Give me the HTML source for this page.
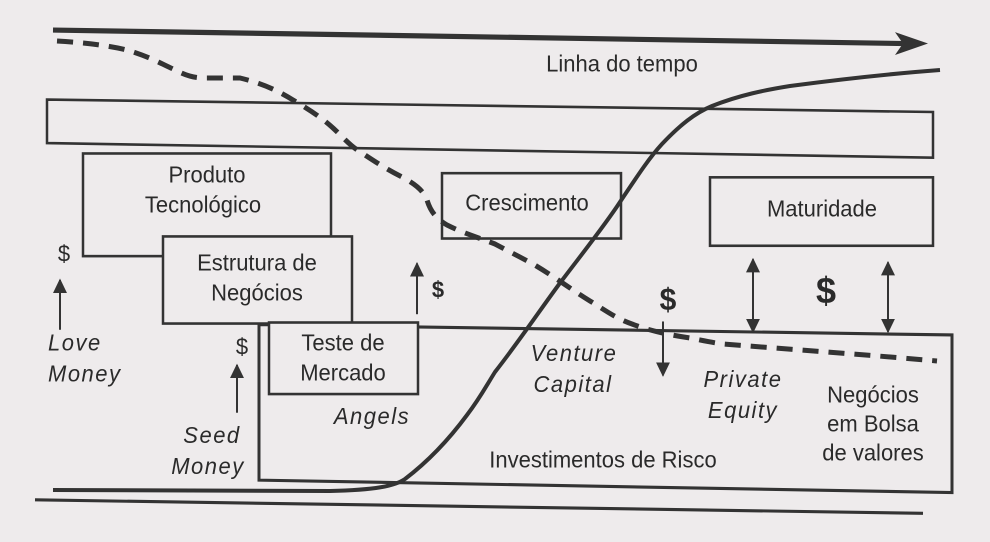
<!DOCTYPE html>
<html><head><meta charset="utf-8"><style>
html,body{margin:0;padding:0;background:#eeebec;}
svg{display:block}
text{font-family:"Liberation Sans",sans-serif;font-size:22px;fill:#2a2a2a;text-anchor:middle}
.i{font-style:italic;letter-spacing:1.5px}
</style></head><body>
<svg width="990" height="542" viewBox="0 0 990 542">
<defs>
<marker id="ah" viewBox="0 0 10 10" refX="9" refY="5" markerWidth="7" markerHeight="7" orient="auto-start-reverse"><path d="M0,0L10,5L0,10z" fill="#333"/></marker>
</defs>
<g transform="scale(1,1.037)">
<g stroke="#333" fill="none">
<line x1="53" y1="29" x2="905" y2="42" stroke-width="5"/>
<path d="M895,31 L928,42 L895,53 L903,42z" fill="#333" stroke="none"/>
<polygon points="47,96 933,108 933,152 47,138" stroke-width="2.5"/>
<rect x="83" y="148" width="248" height="99" stroke-width="2.5" fill="#eeebec"/>
<rect x="163" y="228" width="189" height="84" stroke-width="2.5" fill="#eeebec"/>
<polygon points="259,313 952,323 952,475 259,463" stroke-width="3"/>
<rect x="269" y="311" width="149" height="69" stroke-width="2.5" fill="#eeebec"/>
<rect x="442" y="167" width="179" height="63" stroke-width="2.5"/>
<rect x="710" y="171" width="223" height="66" stroke-width="2.5"/>
<line x1="35" y1="482" x2="923" y2="495" stroke-width="3"/>
<g stroke-width="2">
<line x1="60" y1="318" x2="60" y2="270" marker-end="url(#ah)"/>
<line x1="237" y1="398" x2="237" y2="352" marker-end="url(#ah)"/>
<line x1="417" y1="303" x2="417" y2="254" marker-end="url(#ah)"/>
<line x1="663" y1="310" x2="663" y2="362" marker-end="url(#ah)"/>
<line x1="753" y1="250" x2="753" y2="320" marker-start="url(#ah)" marker-end="url(#ah)"/>
<line x1="888" y1="253" x2="888" y2="320" marker-start="url(#ah)" marker-end="url(#ah)"/>
</g>
</g>
<text x="622" y="69">Linha do tempo</text>
<text x="207" y="176">Produto</text>
<text x="203" y="205">Tecnológico</text>
<text x="257" y="261">Estrutura de</text>
<text x="257" y="290">Negócios</text>
<text x="343" y="338">Teste de</text>
<text x="343" y="367">Mercado</text>
<text x="527" y="203">Crescimento</text>
<text x="822" y="209">Maturidade</text>
<text x="64" y="252">$</text>
<text x="242" y="342">$</text>
<text x="438" y="287" style="font-weight:bold;font-size:22px">$</text>
<text x="668" y="299" style="font-weight:bold;font-size:30px">$</text>
<text x="826" y="292" style="font-weight:bold;font-size:36px">$</text>
<text class="i" x="48" y="338" style="text-anchor:start">Love</text>
<text class="i" x="48" y="368" style="text-anchor:start">Money</text>
<text class="i" x="212" y="427">Seed</text>
<text class="i" x="208" y="457">Money</text>
<text class="i" x="372" y="409">Angels</text>
<text class="i" x="574" y="348">Venture</text>
<text class="i" x="573" y="378">Capital</text>
<text class="i" x="743" y="373">Private</text>
<text class="i" x="743" y="403">Equity</text>
<text x="873" y="388">Negócios</text>
<text x="873" y="416">em Bolsa</text>
<text x="873" y="444">de valores</text>
<text x="603" y="451">Investimentos de Risco</text>
</g>
<g stroke="#333" fill="none">
<path d="M53,490 L330,491 C375,490 395,486 405,479 C430,460 450,438 467,415 C480,398 485,388 495,372 C520,340 540,310 560,283 C585,250 605,225 620,202 C640,172 650,157 662,144 C680,125 695,113 712,106 C740,95 765,90 790,86 C850,78 900,73 940,70" stroke-width="4"/>
<path d="M57,41 C90,43 110,46 127,50 C150,57 160,63 173,69 C185,75 192,78 205,78 L240,78 C265,84 280,92 293,100 C310,110 322,118 333,128 C345,139 350,146 362,153 C380,165 390,171 402,177 C415,184 423,190 427,200 C430,210 435,218 447,225 C465,234 480,238 495,244 C510,252 520,257 533,264 C555,277 572,290 590,301 C605,310 615,318 632,324 C650,331 670,335 690,338 C705,341 715,343 723,344 C800,350 870,355 937,361" stroke-width="5" stroke-dasharray="16,10"/>
</g>
</svg>
</body></html>
